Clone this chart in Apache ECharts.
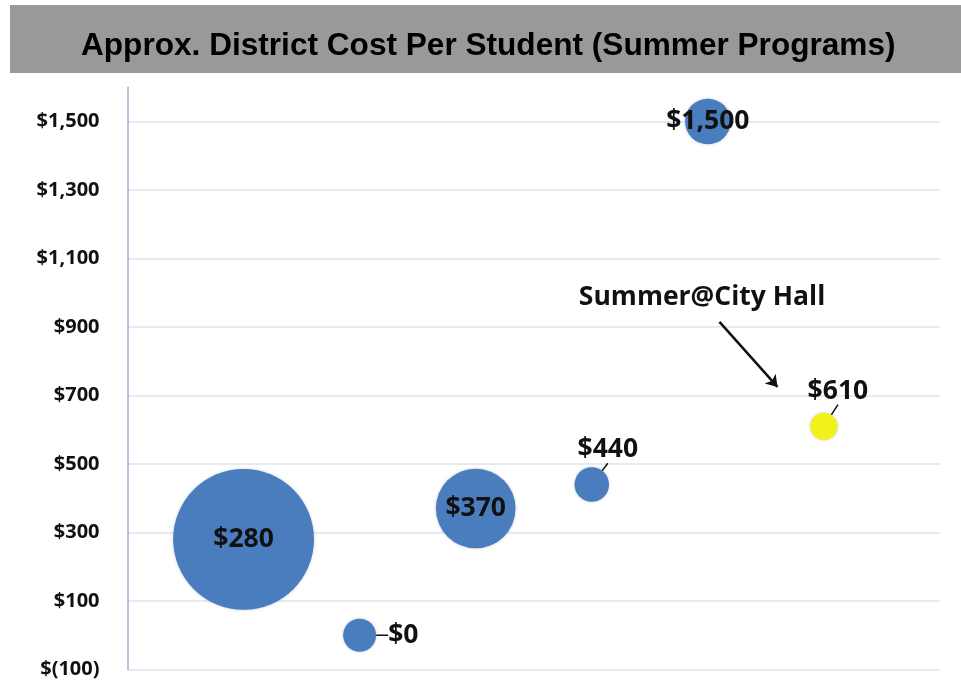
<!DOCTYPE html>
<html>
<head>
<meta charset="utf-8">
<script src="https://cdn.jsdelivr.net/npm/echarts@6/dist/echarts.min.js"></script>
<style>
html,body{margin:0;padding:0;background:#fff;}
#main{width:961px;height:683px;}
</style>
</head>
<body>
<div id="main"></div>
<script>
// 数据
var xSlots = [1, 2, 3, 4, 5, 6];
var costs = [280, 0, 370, 440, 1500, 610];
var bubbleValues = [2000, 110, 640, 120, 210, 75];   // 相对规模
var highlightIndex = 5;
var highlightName = 'Summer@City Hall';
var yMin = -100, yMax = 1600, yStep = 200;

var blue = '#4a7dbd';
var yellow = '#f2f21a';
var gridColor = '#dbe4ef';

function money(v) {
    var s = Math.abs(v).toString().replace(/\B(?=(\d{3})+(?!\d))/g, ',');
    return v < 0 ? '$(' + s + ')' : '$' + s;
}

// 标签位置
var labelCfg = function (i) {
    if (i === 1) return {position: 'right', distance: 12, line: true};
    if (i === 3) return {position: 'top', distance: 4, dx: 16, line: true};
    if (i === 5) return {position: 'top', distance: 8, dx: 14, line: true};
    return {position: 'inside'};
};

var points = costs.map(function (c, i) {
    var cfg = labelCfg(i);
    return {
        value: [xSlots[i], c, bubbleValues[i]],
        itemStyle: {color: i === highlightIndex ? yellow : blue},
        label: {position: cfg.position, distance: cfg.distance || 5},
        labelLine: {show: !!cfg.line}
    };
});

// 每条网格线一个颜色，最上面 (1600) 不画
var splitColors = [];
for (var v = yMin; v <= yMax; v += yStep) splitColors.push(gridColor);
splitColors.push('rgba(0,0,0,0)');

var labelFont = {
    color: '#111',
    fontFamily: 'Open Sans',
    fontWeight: 'bold',
    fontSize: 26.5
};

var option = {
    animation: false,
    graphic: [{
        type: 'rect',
        left: 10, top: 5,
        shape: {width: 951, height: 68},
        style: {fill: '#999999'},
        z: 0
    }],
    title: {
        text: 'Approx. District Cost Per Student (Summer Programs)',
        left: 76,
        top: 25,
        textStyle: {
            fontFamily: 'Liberation Sans',
            fontWeight: 'bold',
            fontSize: 31.6,
            color: '#000'
        }
    },
    grid: {left: 127.5, right: 21, top: 87.25, bottom: 13.5},
    xAxis: {
        type: 'value', min: 0, max: 7, show: false
    },
    yAxis: {
        type: 'value',
        min: yMin, max: yMax, interval: yStep,
        axisLine: {show: true, onZero: false, lineStyle: {color: '#a3aed3', width: 1.5}},
        axisTick: {show: false},
        axisLabel: {
            margin: 28,
            color: '#111',
            fontFamily: 'Open Sans',
            fontWeight: 'bold',
            fontSize: 20,
            formatter: function (v) { return v === yMax ? '' : money(v); }
        },
        splitLine: {show: true, lineStyle: {color: splitColors, width: 1.5}}
    },
    series: [{
        type: 'scatter',
        data: points,
        symbolSize: function (d) { return Math.sqrt(d[2]) * 3.15; },
        itemStyle: {opacity: 1, shadowBlur: 3, shadowColor: 'rgba(40,60,100,0.25)'},
        label: Object.assign({
            show: true,
            formatter: function (p) { return money(p.value[1]); }
        }, labelFont),
        labelLine: {lineStyle: {color: '#111', width: 1.5}},
        labelLayout: function (p) {
            var cfg = labelCfg(p.dataIndex);
            return {dx: cfg.dx || 0, dy: 0};
        },
        markLine: {
            silent: true,
            symbol: ['none', 'arrow'],
            symbolSize: 11,
            label: {show: false},
            lineStyle: {color: '#111', width: 2.5, type: 'solid', opacity: 1},
            data: [[{coord: [5.1, 915]}, {coord: [5.6, 725]}]]
        },
        markPoint: {
            silent: true,
            symbol: 'rect',
            symbolSize: 1,
            itemStyle: {color: 'rgba(0,0,0,0)'},
            label: Object.assign({
                show: true,
                position: 'inside',
                formatter: highlightName
            }, labelFont),
            data: [{coord: [4.95, 985]}]
        }
    }]
};

var chart = echarts.init(document.getElementById('main'));
chart.setOption(option);
</script>
</body>
</html>
